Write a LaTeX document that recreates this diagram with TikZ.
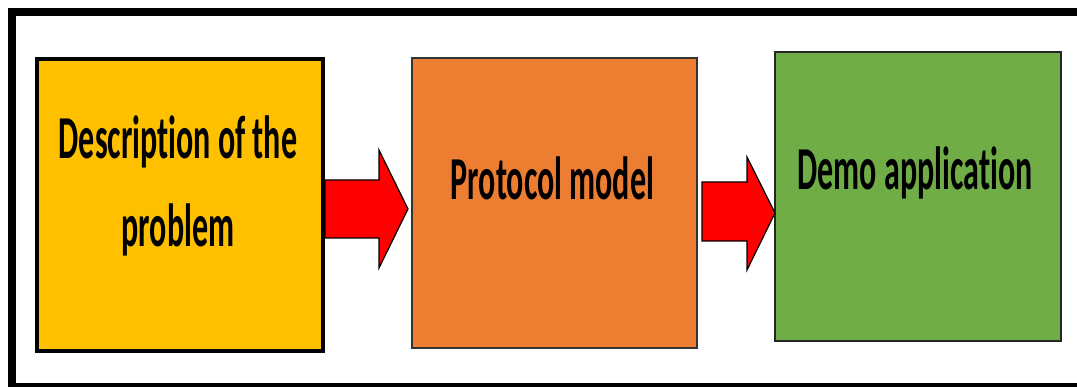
\documentclass[tikz,border=0pt]{standalone}
\usepackage{fontspec}
\setmainfont{Carlito}[FakeStretch=0.525, Ligatures=NoCommon]
\definecolor{yel}{HTML}{FFC000}
\definecolor{org}{HTML}{ED7D31}
\definecolor{grn}{HTML}{70AD47}
\definecolor{arr}{HTML}{FF0000}
\tikzset{
  box/.style={draw=black, rectangle, inner sep=0pt},
  lbl/.style={font=\fontsize{61}{88}\selectfont\bfseries, align=center, inner sep=0pt, text=black},
  blockarrow/.style={fill=arr, draw=black, line width=1.2pt, line join=miter}
}
\begin{document}
\begin{tikzpicture}[x=1pt, y=-1pt]
\useasboundingbox (0,0) rectangle (1077,387);
\fill[white] (0,0) rectangle (1077,387);
\draw[line width=8pt] (12,12) rectangle (1085,387);
\node[box, fill=yel, line width=4pt, minimum width=286pt, minimum height=292pt] (b1) at (180,205) {};
\node[box, fill=org, draw=black!80, line width=2pt, minimum width=285pt, minimum height=290pt] (b2) at (554.5,203) {};
\node[box, fill=grn, draw=black!85, line width=2pt, minimum width=286pt, minimum height=289pt] (b3) at (918,196.5) {};
\node[lbl, anchor=base] (t1) at (178,247) {Description of the\\problem};
\node[lbl, anchor=base] (t2) at (552.5,200) {Protocol model};
\node[lbl, anchor=base] (t3) at (915,190) {Demo application};
\coordinate (a1s) at (b1.east);
\coordinate (a1t) at (408,209);
\draw[blockarrow] (a1s |- 0,180) -- (379,180) -- (379,150) -- (a1t) -- (379,268) -- (379,238) -- (a1s |- 0,238) -- cycle;
\coordinate (a2s) at (702,0);
\coordinate (a2t) at (775,213);
\draw[blockarrow] (a2s |- 0,182) -- (747,182) -- (747,157) -- (a2t) -- (747,270) -- (747,241) -- (a2s |- 0,241) -- cycle;
\end{tikzpicture}
\end{document}
